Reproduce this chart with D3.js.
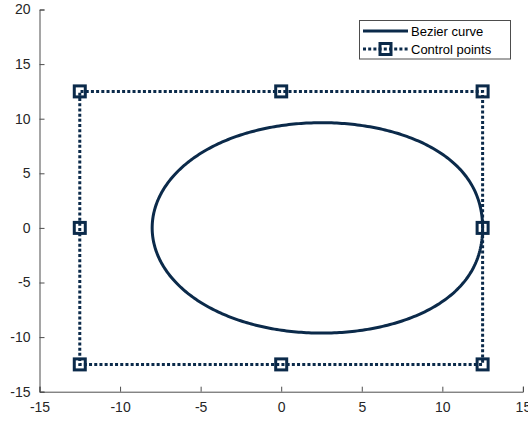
<!DOCTYPE html>
<html>
<head>
<meta charset="utf-8">
<script src="https://cdn.jsdelivr.net/npm/d3@7"></script>
<style>
  body { margin: 0; background: #fff; }
  svg { display: block; }
  text { font-family: "Liberation Sans", Arial, sans-serif; }
</style>
</head>
<body>
<svg id="chart" width="528" height="421"></svg>
<script>
// Control polygon of the closed Bezier curve (first point repeated at the end)
const ctrlX = [12.5, 12.5, 0, -12.5, -12.5, -12.5, 0, 12.5, 12.5];
const ctrlY = [0, 12.5, 12.5, 12.5, 0, -12.5, -12.5, -12.5, 0];
const xTicks = [-15, -10, -5, 0, 5, 10, 15];
const yTicks = [-15, -10, -5, 0, 5, 10, 15, 20];
const seriesNames = ["Bezier curve", "Control points"];

const color = "#0b2a4a";
const svg = d3.select("#chart");
const x = d3.scaleLinear().domain([-15, 15]).range([39.5, 522.9]);
const y = d3.scaleLinear().domain([-15, 20]).range([391.7, 9.5]);

// Evaluate the Bezier curve with de Casteljau's algorithm
function bezier(t) {
  let px = ctrlX.slice(), py = ctrlY.slice();
  for (let k = px.length - 1; k > 0; k--) {
    for (let i = 0; i < k; i++) {
      px[i] = (1 - t) * px[i] + t * px[i + 1];
      py[i] = (1 - t) * py[i] + t * py[i + 1];
    }
  }
  return [px[0], py[0]];
}
const curve = d3.range(0, 401).map(i => bezier(i / 400));

// Axes
const axisColor = "#4d4d4d";
const gx = svg.append("g").attr("transform", `translate(0,${y(-15)})`)
  .call(d3.axisBottom(x).tickValues(xTicks).tickSize(-5).tickPadding(10).tickFormat(d3.format("d")));
const gy = svg.append("g").attr("transform", `translate(${x(-15)},0)`)
  .call(d3.axisLeft(y).tickValues(yTicks).tickSize(-5).tickPadding(9).tickFormat(d3.format("d")));
[gx, gy].forEach(g => {
  g.select(".domain").attr("stroke", axisColor).attr("stroke-width", 1);
  g.selectAll(".tick line").attr("stroke", axisColor);
  g.selectAll(".tick text").attr("fill", "#262626").attr("font-size", 14);
});
gx.selectAll(".tick text").attr("dy", "0.71em");
// replace the minus sign with hyphen look
gx.selectAll(".tick text").text(d => String(d));
gy.selectAll(".tick text").text(d => String(d));

const line = d3.line().x(d => x(d[0])).y(d => y(d[1]));

// Bezier curve
svg.append("path").datum(curve)
  .attr("d", line)
  .attr("fill", "none").attr("stroke", color).attr("stroke-width", 3);

// Control polygon
const ctrl = ctrlX.map((v, i) => [v, ctrlY[i]]);
svg.append("path").datum(ctrl)
  .attr("d", line)
  .attr("fill", "none").attr("stroke", color).attr("stroke-width", 3)
  .attr("stroke-dasharray", "3,2.2");

svg.append("g").selectAll("rect").data(ctrl.slice(0, -1)).join("rect")
  .attr("x", d => x(d[0]) - 5.5).attr("y", d => y(d[1]) - 5.5)
  .attr("width", 11).attr("height", 11)
  .attr("fill", "none").attr("stroke", color).attr("stroke-width", 3);

// Legend
const lg = svg.append("g");
lg.append("rect").attr("x", 359.5).attr("y", 20.5).attr("width", 151).attr("height", 38.5)
  .attr("fill", "#fff").attr("stroke", "#4d4d4d").attr("stroke-width", 1);
lg.append("line").attr("x1", 363).attr("x2", 408).attr("y1", 31).attr("y2", 31)
  .attr("stroke", color).attr("stroke-width", 3);
lg.append("line").attr("x1", 363).attr("x2", 408).attr("y1", 49).attr("y2", 49)
  .attr("stroke", color).attr("stroke-width", 3).attr("stroke-dasharray", "3,2.2");
lg.append("rect").attr("x", 380).attr("y", 43.5).attr("width", 11).attr("height", 11)
  .attr("fill", "none").attr("stroke", color).attr("stroke-width", 3);
lg.selectAll("text.lbl").data(seriesNames).join("text")
  .attr("x", 411).attr("y", (d, i) => 31 + i * 18).attr("dy", "0.35em")
  .attr("font-size", 13).attr("fill", "#000").text(d => d);
</script>
</body>
</html>
